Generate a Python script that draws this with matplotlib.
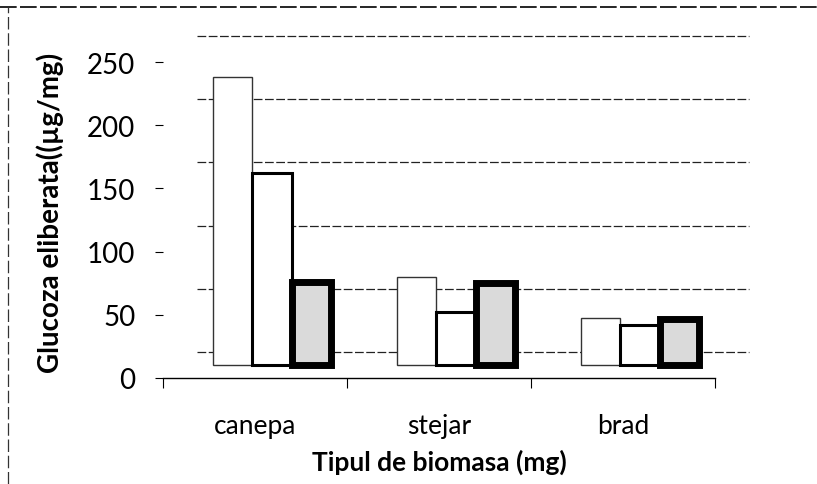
import matplotlib.pyplot as plt
import matplotlib.transforms as mtransforms
from matplotlib.lines import Line2D
import numpy as np

plt.rcParams['font.family'] = ['Lato', 'DejaVu Sans']

# datele: glucoza eliberata pe tip de biomasa, trei serii
categorii = ['canepa', 'stejar', 'brad']
seria_1 = [228, 70, 37]
seria_2 = [152, 42, 32]
seria_3 = [66, 65, 36]
valori_y = [0, 50, 100, 150, 200, 250]

W, H = 817, 485
fig = plt.figure(figsize=(W / 100, H / 100), dpi=100)

# zona frontala a graficului (in pixeli)
x0, x1 = 163, 715
y0, y1 = 379, 63
ax = fig.add_axes([x0 / W, 1 - y0 / H, (x1 - x0) / W, (y0 - y1) / H])
ax.set_xlim(-0.5, 2.5)
ax.set_ylim(0, 250)
ax.patch.set_visible(False)

# efect 3D: peretele din spate si barele sunt deplasate in sus/dreapta
spate = mtransforms.offset_copy(ax.transData, fig=fig, x=34, y=26, units='dots')
mijloc = mtransforms.offset_copy(ax.transData, fig=fig, x=17, y=13, units='dots')

ax.hlines(valori_y, -0.5, 2.5, transform=spate, colors='#222222', lw=0.9,
          linestyles=(0, (7, 2)), clip_on=False, zorder=1)

x = np.arange(len(categorii))
w = 0.215
ax.bar(x - w, seria_1, w, facecolor='white', edgecolor='#333333', lw=1.0,
       transform=mijloc, clip_on=False, zorder=3)
ax.bar(x, seria_2, w, facecolor='white', edgecolor='black', lw=2.2,
       transform=mijloc, clip_on=False, zorder=4)
ax.bar(x + w, seria_3, w, facecolor='#dadada', edgecolor='black', lw=5,
       transform=mijloc, clip_on=False, zorder=5)

# axele
for s in ['top', 'right', 'left']:
    ax.spines[s].set_visible(False)
ax.spines['bottom'].set_color('black')
ax.spines['bottom'].set_linewidth(1.0)

ax.set_yticks(valori_y)
ax.set_yticklabels([str(v) for v in valori_y], fontsize=20)
ax.tick_params(axis='y', length=6, width=0.8, pad=14)

ax.set_xticks(x)
ax.set_xticklabels(categorii, fontsize=19)
ax.tick_params(axis='x', length=0, pad=25)
ax.set_xticks([-0.5, 0.5, 1.5, 2.5], minor=True)
ax.tick_params(axis='x', which='minor', length=7, width=0.8)

ax.set_xlabel('Tipul de biomasa (mg)', fontsize=19, fontweight='bold', labelpad=8)
fig.text(50 / W, 1 - 213 / H, 'Glucoza eliberata((µg/mg)', rotation=90,
         fontsize=20, fontweight='bold', ha='center', va='center')

# chenarul exterior
fig.add_artist(Line2D([0, 1], [1 - 8 / H, 1 - 8 / H], color='black', lw=1.2,
                      linestyle=(0, (10, 2))))
fig.add_artist(Line2D([8 / W, 8 / W], [0, 1 - 8 / H], color='#333333', lw=0.9,
                      linestyle=(0, (10, 3))))

fig.savefig('out.png', dpi=100)
